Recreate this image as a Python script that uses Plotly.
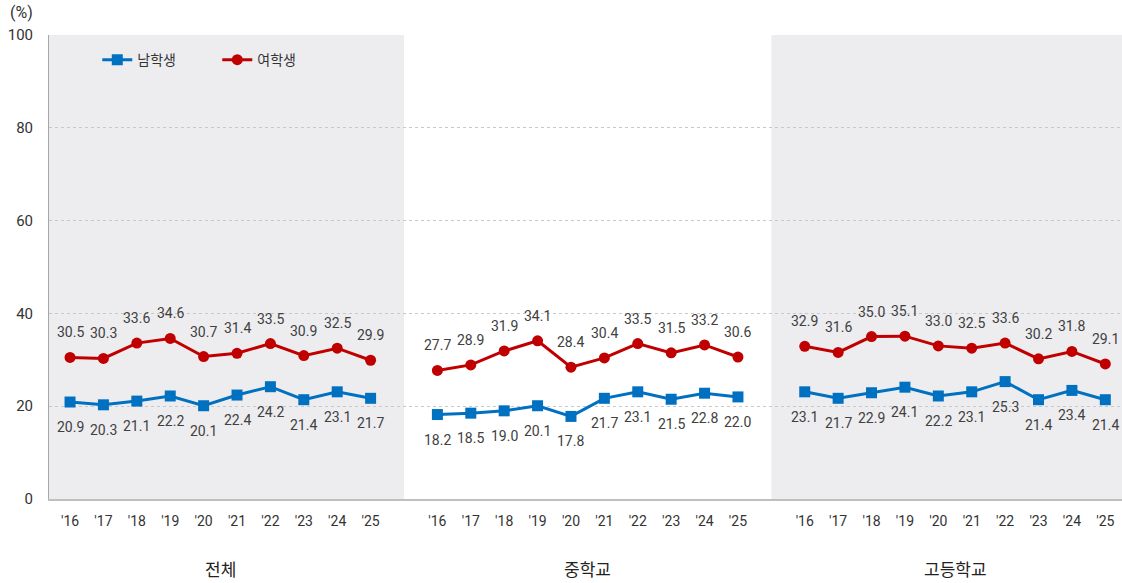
import plotly.graph_objects as go

years = ["'16", "'17", "'18", "'19", "'20", "'21", "'22", "'23", "'24", "'25"]
groups = ["전체", "중학교", "고등학교"]
series_names = ["남학생", "여학생"]

male_total = [20.9, 20.3, 21.1, 22.2, 20.1, 22.4, 24.2, 21.4, 23.1, 21.7]
female_total = [30.5, 30.3, 33.6, 34.6, 30.7, 31.4, 33.5, 30.9, 32.5, 29.9]
male_middle = [18.2, 18.5, 19.0, 20.1, 17.8, 21.7, 23.1, 21.5, 22.8, 22.0]
female_middle = [27.7, 28.9, 31.9, 34.1, 28.4, 30.4, 33.5, 31.5, 33.2, 30.6]
male_high = [23.1, 21.7, 22.9, 24.1, 22.2, 23.1, 25.3, 21.4, 23.4, 21.4]
female_high = [32.9, 31.6, 35.0, 35.1, 33.0, 32.5, 33.6, 30.2, 31.8, 29.1]

male = [male_total, male_middle, male_high]
female = [female_total, female_middle, female_high]

y_ticks = [0, 20, 40, 60, 80, 100]

BLUE = "#0070c0"
RED = "#c00000"
LABEL = "#404040"
FONT = "Roboto, Noto Sans CJK KR, sans-serif"
KFONT = "Noto Sans CJK KR, sans-serif"

GAP = 11
fig = go.Figure()

xs_all, tick_text = [], []
for g in range(3):
    xs = [g * GAP + i for i in range(len(years))]
    xs_all += xs
    tick_text += years
    fig.add_trace(go.Scatter(
        x=xs, y=male[g], mode="lines+markers", name=series_names[0],
        line=dict(color=BLUE, width=3), marker=dict(symbol="square", size=11, color=BLUE),
        showlegend=(g == 0), legendgroup="m"))
    fig.add_trace(go.Scatter(
        x=xs, y=female[g], mode="lines+markers", name=series_names[1],
        line=dict(color=RED, width=3), marker=dict(symbol="circle", size=11, color=RED),
        showlegend=(g == 0), legendgroup="f"))
    for x, v in zip(xs, male[g]):
        fig.add_annotation(x=x, y=v, text=f"{v:.1f}", showarrow=False, yshift=-25,
                           font=dict(size=14, color=LABEL, family=FONT))
    for x, v in zip(xs, female[g]):
        fig.add_annotation(x=x, y=v, text=f"{v:.1f}", showarrow=False, yshift=25,
                           font=dict(size=14, color=LABEL, family=FONT))
    fig.add_annotation(x=g * GAP + 4.5, xref="x", y=-0.15, yref="paper", yanchor="middle",
                       text=groups[g], showarrow=False,
                       font=dict(size=17, color="#222222", family=KFONT))

x_left = -0.63
x_right = 31.5
for x0, x1 in [(x_left, 10.0), (2 * GAP - 1.0, x_right)]:
    fig.add_shape(type="rect", xref="x", yref="paper", x0=x0, x1=x1, y0=0, y1=1,
                  fillcolor="#ededf0", line=dict(width=0), layer="below")

fig.add_annotation(x=-0.026, xref="paper", y=1.023, yref="paper", text="(%)", showarrow=False,
                   xanchor="center", yanchor="bottom", font=dict(size=16, color="#333333", family=FONT))

fig.update_layout(
    width=1122, height=583,
    margin=dict(l=49, r=0, t=35, b=84),
    paper_bgcolor="white", plot_bgcolor="white",
    font=dict(family=FONT),
    showlegend=True,
    legend=dict(orientation="h", x=0.045, y=0.946, xanchor="left", yanchor="middle",
                bgcolor="rgba(0,0,0,0)", font=dict(size=14, color="#333333", family=KFONT),
                entrywidth=75, itemwidth=30),
    xaxis=dict(range=[x_left, x_right], tickvals=xs_all, ticktext=tick_text,
               showgrid=False, zeroline=False, showline=True, linecolor="#bfbfbf", linewidth=2,
               ticks="outside", ticklen=8, tickcolor="rgba(0,0,0,0)",
               tickfont=dict(size=14, color="#333333", family=FONT)),
    yaxis=dict(range=[0, 100], tickvals=y_ticks, showgrid=True, gridcolor="#c8c8c8",
               griddash="dot", gridwidth=1, zeroline=False, showline=True, linecolor="#a6a6a6",
               linewidth=1, ticks="outside", ticklen=12, tickcolor="rgba(0,0,0,0)",
               tickfont=dict(size=15, color="#333333", family=FONT)),
)

fig.write_html("out.html", config={"displayModeBar": False},
               post_script="document.body.style.margin='0';document.body.style.overflow='hidden';")
